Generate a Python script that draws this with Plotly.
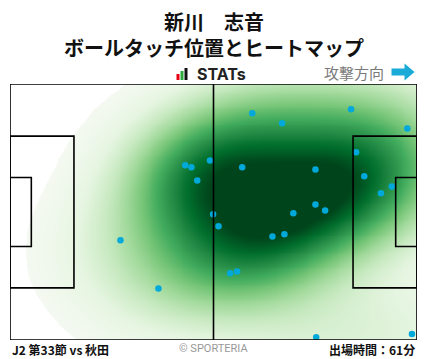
import numpy as np
import plotly.graph_objects as go

# ---- data (pitch coords, metres: x 0..105 attacking right, y 0..68 from bottom) ----
touch_x = [45.2, 46.8, 51.6, 48.3, 52.4, 53.8, 28.5, 38.3, 62.5, 70.2, 88.0, 102.5, 89.3, 59.9,
           78.8, 91.4, 98.5, 95.7, 78.8, 81.3, 73.1, 70.8, 67.7, 58.6, 56.8, 79.0, 103.7]
touch_y = [46.4, 45.9, 47.7, 42.4, 33.4, 30.2, 26.5, 13.7, 60.2, 57.6, 61.3, 56.2, 49.9, 45.9,
           45.3, 43.5, 40.8, 39.0, 36.0, 34.4, 33.7, 28.1, 27.5, 18.2, 17.7, 0.7, 1.6]

title_name = "新川　志音"
title_sub = "ボールタッチ位置とヒートマップ"
match_label = "J2 第33節 vs 秋田"
minutes_label = "出場時間：61分"
credit_label = "© SPORTERIA"
direction_label = "攻撃方向"

L, W = 105.0, 68.0
W_PX, H_PX = 428, 359
ML, MR, MT, MB = 10, 11, 84, 19
PW, PH = W_PX - ML - MR, H_PX - MT - MB

def px(x):
    return (x - ML) / PW

def py(y):
    return (H_PX - MB - y) / PH

# ---- Gaussian KDE (Scott's rule widened, full covariance) ----
pts_arr = np.vstack([touch_x, touch_y])
n = pts_arr.shape[1]
factor = 1.25 * n ** (-1.0 / 6.0)
cov = np.cov(pts_arr) * factor ** 2
inv = np.linalg.inv(cov)
gx = np.linspace(0, L, 211)
gy = np.linspace(0, W, 137)
GX, GY = np.meshgrid(gx, gy)
Z = np.zeros_like(GX)
for x, y in zip(touch_x, touch_y):
    dx, dy = GX - x, GY - y
    Z += np.exp(-0.5 * (inv[0, 0] * dx * dx + 2 * inv[0, 1] * dx * dy + inv[1, 1] * dy * dy))
Z = Z / Z.max()

greens = ['#f4f9f1', '#e5f5e0', '#c7e9c0', '#a1d99b', '#74c476', '#41ab5d', '#238b45', '#006d2c', '#00441b']
thr = 0.035
top = 0.88
cs = [[0.0, '#ffffff'], [thr, '#ffffff'], [thr + 0.0001, greens[0]]]
for i, c in enumerate(greens[1:], start=1):
    cs.append([thr + (top - thr) * i / (len(greens) - 1), c])
cs.append([1.0, '#00441b'])

fig = go.Figure()
fig.add_trace(go.Heatmap(x=gx, y=gy, z=Z, colorscale=cs, zmin=0, zmax=1,
                         showscale=False, zsmooth='best', hoverinfo='skip'))
fig.add_trace(go.Scatter(x=touch_x, y=touch_y, mode='markers',
                         marker=dict(size=6.5, color='#00a9d9'), hoverinfo='skip'))

line = dict(color='black', width=1.6)
shapes = []
def rect(x0, y0, x1, y1):
    shapes.append(dict(type='rect', xref='x', yref='y', x0=x0, y0=y0, x1=x1, y1=y1,
                       line=line, layer='above'))
rect(0, 0, L, W)
shapes.append(dict(type='line', xref='x', yref='y', x0=L / 2, y0=0, x1=L / 2, y1=W, line=line, layer='above'))
rect(0, 13.84, 16.5, 54.16)
rect(0, 24.84, 5.5, 43.16)
rect(L - 16.5, 13.84, L, 54.16)
rect(L - 5.5, 24.84, L, 43.16)

# logo bars
for x0, x1, y0, col in [(176.5, 179.5, 74, '#e60012'), (180.5, 183.5, 71, '#2eaa3c'), (184.5, 187.5, 68, '#111111')]:
    shapes.append(dict(type='rect', xref='paper', yref='paper', x0=px(x0), x1=px(x1),
                       y0=py(80), y1=py(y0), fillcolor=col, line=dict(width=0)))
# direction arrow
apts = [(391.5, 68.5), (404.5, 68.5), (404.5, 63.5), (414.5, 72), (404.5, 80.5), (404.5, 75.5), (391.5, 75.5)]
path = 'M ' + ' L '.join(f'{px(a)},{py(b)}' for a, b in apts) + ' Z'
shapes.append(dict(type='path', xref='paper', yref='paper', path=path,
                   fillcolor='#1aaad8', line=dict(width=0)))

jp = "Noto Sans CJK JP"
ann = [
    dict(text=f"<b>{title_name}</b><br><b>{title_sub}</b>", x=px(214), y=py(34),
         font=dict(size=20, family=jp, color='#111')),
    dict(text="<b>STATs</b>", x=px(195), y=py(74), xanchor='left', font=dict(size=16, family="Inter", color='#222')),
    dict(text=direction_label, x=px(386), y=py(72), xanchor='right', font=dict(size=15, family=jp, color='#7a7a7a')),
    dict(text=f"<b>{match_label}</b>", x=px(10), y=py(349), xanchor='left', font=dict(size=12, family=jp, color='#111')),
    dict(text=credit_label, x=px(213), y=py(348), font=dict(size=11, family="Roboto", color='#999')),
    dict(text=f"<b>{minutes_label}</b>", x=px(417), y=py(349), xanchor='right', font=dict(size=12, family=jp, color='#111')),
]
for a in ann:
    a.update(xref='paper', yref='paper', showarrow=False, yanchor='middle')
    a.setdefault('xanchor', 'center')

fig.update_layout(
    width=W_PX, height=H_PX,
    margin=dict(l=ML, r=MR, t=MT, b=MB),
    paper_bgcolor='white', plot_bgcolor='white',
    xaxis=dict(range=[0, L], visible=False, fixedrange=True),
    yaxis=dict(range=[0, W], visible=False, fixedrange=True),
    shapes=shapes, annotations=ann, showlegend=False,
)
fig.write_html("out.html", config={'displayModeBar': False},
               post_script="document.body.style.margin='0';document.body.style.overflow='hidden';")
